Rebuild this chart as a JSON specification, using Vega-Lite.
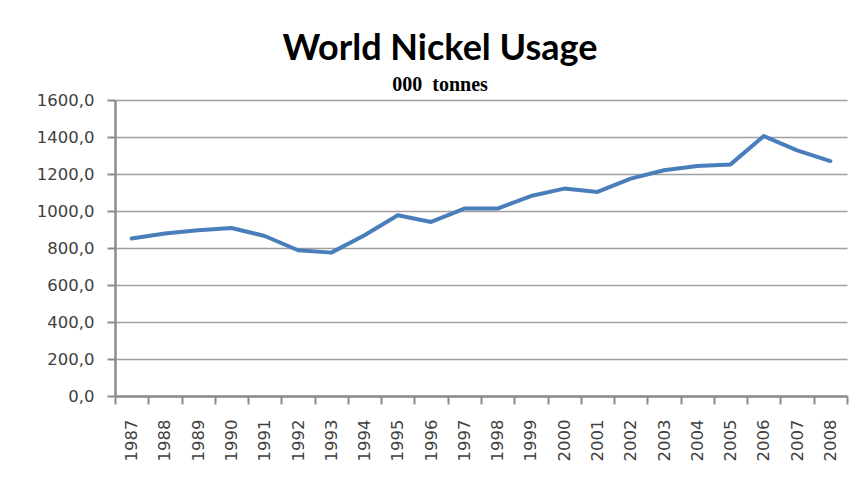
{
  "$schema": "https://vega.github.io/schema/vega-lite/v6.json",
  "width": 732,
  "height": 296,
  "autosize": {"type": "none"},
  "padding": {"left": 115, "top": 100, "right": 12, "bottom": 103},
  "background": "white",
  "title": {
    "text": "World Nickel Usage",
    "subtitle": "000\u00a0\u00a0tonnes",
    "anchor": "middle",
    "frame": "group",
    "dx": -41,
    "font": "Lato",
    "fontSize": 36,
    "fontWeight": "bold",
    "color": "#000000",
    "subtitleFont": "Liberation Serif",
    "subtitleFontSize": 20,
    "subtitleFontWeight": "bold",
    "subtitleColor": "#000000",
    "subtitlePadding": 7,
    "offset": -4
  },
  "data": {
    "values": [
      {"year": "1987", "usage": 851},
      {"year": "1988", "usage": 878},
      {"year": "1989", "usage": 896},
      {"year": "1990", "usage": 908},
      {"year": "1991", "usage": 865},
      {"year": "1992", "usage": 788},
      {"year": "1993", "usage": 775},
      {"year": "1994", "usage": 869},
      {"year": "1995", "usage": 977},
      {"year": "1996", "usage": 941},
      {"year": "1997", "usage": 1013},
      {"year": "1998", "usage": 1013},
      {"year": "1999", "usage": 1081},
      {"year": "2000", "usage": 1121},
      {"year": "2001", "usage": 1103},
      {"year": "2002", "usage": 1175},
      {"year": "2003", "usage": 1220},
      {"year": "2004", "usage": 1243},
      {"year": "2005", "usage": 1252},
      {"year": "2006", "usage": 1405},
      {"year": "2007", "usage": 1328},
      {"year": "2008", "usage": 1270}
    ]
  },
  "mark": {"type": "line", "color": "#4a7ebb", "strokeWidth": 4, "strokeCap": "round", "strokeJoin": "round"},
  "encoding": {
    "x": {
      "field": "year",
      "type": "ordinal",
      "scale": {"type": "band", "paddingInner": 0, "paddingOuter": 0},
      "axis": {
        "title": null,
        "labelAngle": 270,
        "labelFont": "DejaVu Sans",
        "labelFontSize": 16.5,
        "labelColor": "#404040",
        "labelPadding": 15,
        "tickBand": "extent",
        "tickSize": 8,
        "tickColor": "#8c8c8c",
        "tickWidth": 2,
        "domainColor": "#8c8c8c",
        "domainWidth": 2.5,
        "grid": false
      }
    },
    "y": {
      "field": "usage",
      "type": "quantitative",
      "scale": {"domain": [0, 1600], "nice": false},
      "axis": {
        "title": null,
        "values": [0, 200, 400, 600, 800, 1000, 1200, 1400, 1600],
        "labelExpr": "replace(format(datum.value, '.1f'), '.', ',')",
        "labelFont": "DejaVu Sans",
        "labelFontSize": 16.5,
        "labelColor": "#404040",
        "labelPadding": 13,
        "tickSize": 8,
        "tickColor": "#8c8c8c",
        "tickWidth": 2,
        "domainColor": "#8c8c8c",
        "domainWidth": 2.5,
        "grid": true,
        "gridColor": "#a0a0a0",
        "gridWidth": 1.5
      }
    }
  },
  "config": {
    "view": {"stroke": null}
  }
}
